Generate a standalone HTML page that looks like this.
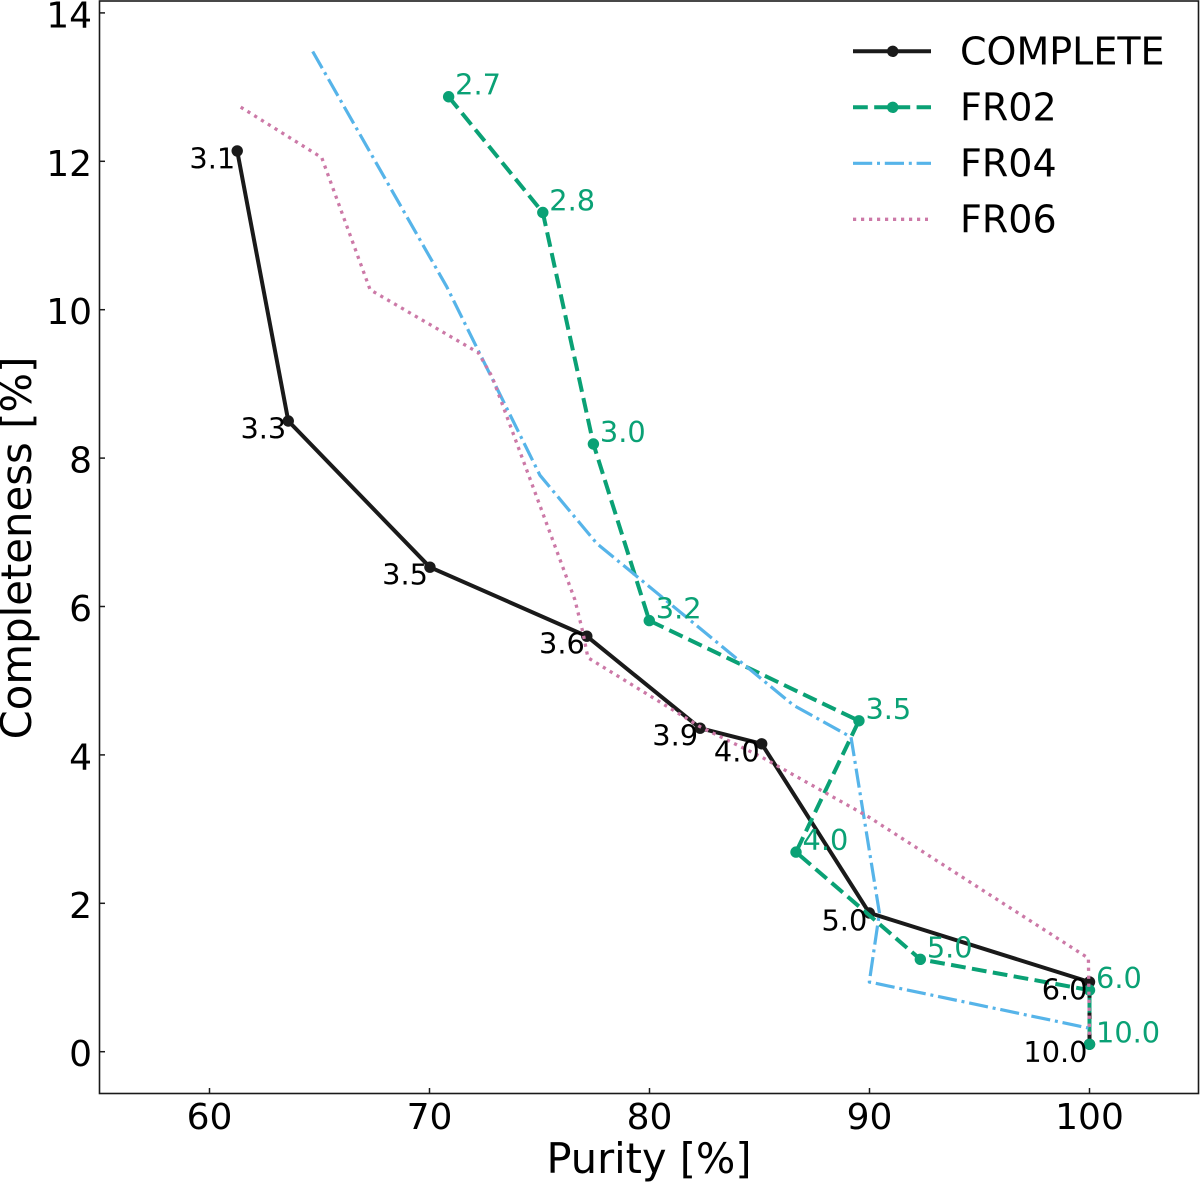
<!DOCTYPE html>
<html lang="en">
<head>
<meta charset="utf-8">
<title>Purity vs Completeness</title>
<style>
html,body{margin:0;padding:0;background:#fff;}
svg{display:block;}
text{font-family:"DejaVu Sans","Liberation Sans",sans-serif;fill:#000;}
</style>
</head>
<body>
<svg id="chart" xmlns="http://www.w3.org/2000/svg" width="1200" height="1182" viewBox="0 0 1200 1182"></svg>
<script>
const xTickValues = [60, 70, 80, 90, 100];
const yTickValues = [0, 2, 4, 6, 8, 10, 12, 14];

const completePurity = [61.26, 63.58, 70.02, 77.15, 82.3, 85.1, 89.99, 100, 100];
const completeCompleteness = [12.14, 8.5, 6.53, 5.6, 4.36, 4.15, 1.87, 0.94, 0.1];
const completeLabels = ['3.1', '3.3', '3.5', '3.6', '3.9', '4.0', '5.0', '6.0', '10.0'];

const fr02Purity = [70.87, 75.15, 77.45, 79.99, 89.52, 86.66, 92.31, 100, 100];
const fr02Completeness = [12.87, 11.31, 8.19, 5.81, 4.46, 2.69, 1.245, 0.83, 0.1];
const fr02Labels = ['2.7', '2.8', '3.0', '3.2', '3.5', '4.0', '5.0', '6.0', '10.0'];

const fr04Purity = [64.69, 70.78, 75.02, 77.6, 86.54, 89.16, 90.45, 89.99, 99.95];
const fr04Completeness = [13.48, 10.31, 7.77, 6.85, 4.67, 4.24, 1.87, 0.94, 0.32];

const fr06Purity = [61.42, 65.1, 67.3, 72.22, 72.84, 76.61, 76.98, 77.2, 82.3, 85.1, 89.98, 99.95, 100];
const fr06Completeness = [12.73, 12.05, 10.27, 9.42, 9.1, 6.09, 5.64, 5.31, 4.38, 3.97, 3.16, 1.26, 0.2];

const legendNames = ['COMPLETE', 'FR02', 'FR04', 'FR06'];

const NS = 'http://www.w3.org/2000/svg';
const svg = document.getElementById('chart');
const xScale = v => 209.5 + (v - 60) * 22;
const yScale = v => 1051.7 - v * 74.2;

const BLACK = '#1a1a1a', GREEN = '#0aa175', BLUE = '#56B4E9', PINK = '#CC79A7';
const styles = [
  {color: BLACK, width: 4, dash: '', marker: true},
  {color: GREEN, width: 4, dash: '14.8 6.4', marker: true},
  {color: BLUE, width: 3.2, dash: '19.2 4.8 3 4.8', marker: false},
  {color: PINK, width: 3.3, dash: '3.2 4.8', marker: false}
];

function make(tag, attrs, parent) {
  const el = document.createElementNS(NS, tag);
  for (const k in attrs) el.setAttribute(k, attrs[k]);
  (parent || svg).appendChild(el);
  return el;
}

function drawSeries(xs, ys, style, name) {
  const g = make('g', {});
  
  
  const pts = xs.map((x, i) => xScale(x).toFixed(1) + ',' + yScale(ys[i]).toFixed(1)).join(' ');
  const line = make('polyline', {points: pts, fill: 'none', stroke: style.color, 'stroke-width': style.width, 'stroke-linejoin': 'round'}, g);
  
  
  if (style.dash) line.setAttribute('stroke-dasharray', style.dash);
  if (style.marker) {
    xs.forEach((x, i) => {
      const c = make('circle', {cx: xScale(x), cy: yScale(ys[i]), r: 5.7, fill: style.color}, g);
      
      
    });
  }
}

function drawPointLabels(xs, ys, labels, color, anchor, dx, dy, name) {
  labels.forEach((t, i) => {
    const el = make('text', {x: xScale(xs[i]) + dx, y: yScale(ys[i]) + dy, 'font-size': 28.8, 'text-anchor': anchor});
    el.style.fill = color;
    el.textContent = t;
    
    
  });
}

drawSeries(completePurity, completeCompleteness, styles[0], 'complete');
drawSeries(fr02Purity, fr02Completeness, styles[1], 'fr02');
drawSeries(fr04Purity, fr04Completeness, styles[2], 'fr04');
drawSeries(fr06Purity, fr06Completeness, styles[3], 'fr06');

drawPointLabels(completePurity, completeCompleteness, completeLabels, '#000', 'end', -2, 17.5, 'complete');
drawPointLabels(fr02Purity, fr02Completeness, fr02Labels, GREEN, 'start', 6.5, -2, 'fr02');

const frame = make('rect', {x: 99.5, y: 1, width: 1099, height: 1092.5, fill: 'none', stroke: '#1a1a1a', 'stroke-width': 1.6});



xTickValues.forEach(v => {
  const t = make('line', {x1: xScale(v), x2: xScale(v), y1: 1093.5, y2: 1088, stroke: '#1a1a1a', 'stroke-width': 1.5});
  
  
  const l = make('text', {x: xScale(v), y: 1129, 'font-size': 36, 'text-anchor': 'middle'});
  l.textContent = String(v);
  
  
});

yTickValues.forEach(v => {
  const t = make('line', {x1: 99.5, x2: 105, y1: yScale(v), y2: yScale(v), stroke: '#1a1a1a', 'stroke-width': 1.5});
  
  
  const l = make('text', {x: 92, y: yScale(v) + 14.5, 'font-size': 36, 'text-anchor': 'end'});
  l.textContent = String(v);
  
  
});

const xTitle = make('text', {x: 649, y: 1173, 'font-size': 41.5, 'text-anchor': 'middle'});
xTitle.textContent = 'Purity [%]';



const yTitle = make('text', {x: 0, y: 0, 'font-size': 41.8, 'text-anchor': 'middle', transform: 'translate(31 548) rotate(-90)'});
yTitle.textContent = 'Completeness [%]';



const legend = make('g', {});


legendNames.forEach((n, i) => {
  const ly = 51.3 + i * 56;
  const s = styles[i];
  const ln = make('line', {x1: 853, x2: i === 3 ? 928 : 931, y1: ly, y2: ly, stroke: s.color, 'stroke-width': s.width}, legend);
  if (s.dash) ln.setAttribute('stroke-dasharray', s.dash);
  
  
  if (s.marker) {
    const m = make('circle', {cx: 892.7, cy: ly, r: 5.7, fill: s.color}, legend);
    
    
  }
  const tx = make('text', {x: 960, y: ly + 13, 'font-size': 38}, legend);
  tx.textContent = n;
  
  
});
</script>
</body>
</html>
